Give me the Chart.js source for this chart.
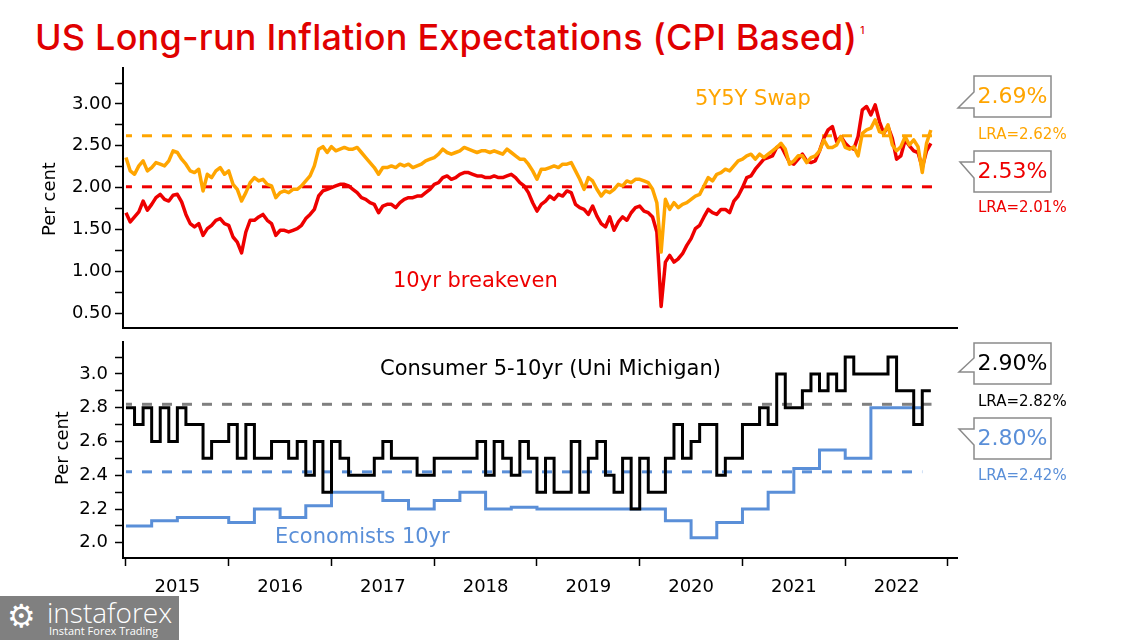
<!DOCTYPE html>
<html>
<head>
<meta charset="utf-8">
<script src="https://cdn.jsdelivr.net/npm/chart.js@4"></script>
<style>
  html, body { margin: 0; padding: 0; background: #fff; }
  #wrap { position: relative; width: 1125px; height: 640px; overflow: hidden; background: #fff; }
  #title { position: absolute; left: 35px; top: 12px; font-family: Inter, "Noto Sans", sans-serif; font-weight: 500;
           font-size: 36px; line-height: 36px; color: #e00000; white-space: nowrap; letter-spacing: 0.2px; }
  #title sup { font-size: 10px; vertical-align: 16px; margin-left: 3px; }
  canvas { position: absolute; left: 0; }
  #topChart { top: 54px; }
  #bottomChart { top: 324px; }
  #logo { position: absolute; left: 0; top: 596px; width: 179px; height: 44px; background: #808080; color: #fff; overflow: hidden; }
  #logo .gear { position: absolute; left: 7px; top: 1px; font: 32px "DejaVu Sans", sans-serif; }
  #logo .name { position: absolute; left: 47px; top: -3px; font: 300 28px "Open Sans", sans-serif; }
  #logo .tag { position: absolute; left: 49px; top: 27px; font: 11px "Open Sans", sans-serif; }
</style>
</head>
<body>
<div id="wrap">
  <div id="title">US Long-run Inflation Expectations (CPI Based)<sup>1</sup></div>
  <canvas id="topChart" width="1125" height="288"></canvas>
  <canvas id="bottomChart" width="1125" height="276"></canvas>
  <div id="logo"><span class="gear">&#9881;</span><span class="name">instaforex</span><span class="tag">Instant Forex Trading</span></div>
</div>
<script>
// 数据 (semi-monthly from Jan 2015)
const breakeven = [
  1.70, 1.59, 1.65, 1.71, 1.84, 1.73, 1.80, 1.88, 1.92, 1.86,
  1.84, 1.91, 1.92, 1.83, 1.68, 1.57, 1.53, 1.57, 1.43, 1.51,
  1.55, 1.61, 1.63, 1.57, 1.55, 1.41, 1.35, 1.22, 1.47, 1.61,
  1.61, 1.65, 1.68, 1.61, 1.57, 1.43, 1.49, 1.49, 1.47, 1.49,
  1.51, 1.55, 1.63, 1.68, 1.74, 1.90, 1.96, 1.98,
  2.00, 2.02, 2.04, 2.04, 2.02, 1.98, 1.94, 1.88, 1.86, 1.82,
  1.80, 1.70, 1.78, 1.80, 1.80, 1.76, 1.82, 1.86, 1.88, 1.88,
  1.90, 1.90, 1.94, 1.98, 2.04, 2.06, 2.12, 2.14, 2.10, 2.12,
  2.16, 2.18, 2.18, 2.16, 2.14, 2.14, 2.12, 2.12, 2.14, 2.12,
  2.12, 2.14, 2.16, 2.12, 2.06, 2.02, 1.94, 1.82, 1.72,
  1.80, 1.84, 1.90, 1.86, 1.92, 1.90, 1.96, 1.94, 1.80, 1.76,
  1.74, 1.68, 1.78, 1.66, 1.57, 1.53, 1.65, 1.49, 1.59, 1.65,
  1.61, 1.70, 1.76, 1.78, 1.72, 1.70, 1.65, 1.47, 0.58, 1.11,
  1.19, 1.11, 1.15, 1.21, 1.31, 1.39, 1.51, 1.55, 1.65, 1.74,
  1.70, 1.68, 1.74, 1.74, 1.70, 1.84, 1.90, 2.00, 2.12,
  2.14, 2.22, 2.28, 2.34, 2.36, 2.38, 2.48, 2.50, 2.40, 2.30,
  2.28, 2.34, 2.40, 2.32, 2.30, 2.32, 2.44, 2.59, 2.69, 2.73,
  2.55, 2.61, 2.53, 2.48, 2.46, 2.61, 2.93, 2.97, 2.87, 2.99,
  2.79, 2.65, 2.73, 2.59, 2.34, 2.38, 2.57, 2.50, 2.44, 2.42,
  2.24, 2.44, 2.53
];

const swap5y5y = [
  2.36, 2.20, 2.16, 2.26, 2.32, 2.20, 2.24, 2.30, 2.28, 2.26,
  2.32, 2.44, 2.42, 2.34, 2.28, 2.20, 2.18, 2.22, 1.96, 2.16,
  2.12, 2.20, 2.24, 2.16, 2.20, 2.04, 1.98, 1.84, 1.94, 2.06,
  2.12, 2.08, 2.10, 2.04, 2.02, 1.88, 1.94, 1.96, 1.94, 1.98,
  1.98, 2.02, 2.08, 2.14, 2.26, 2.46, 2.49, 2.42,
  2.49, 2.44, 2.46, 2.48, 2.46, 2.46, 2.48, 2.42, 2.36, 2.30,
  2.24, 2.16, 2.24, 2.24, 2.26, 2.24, 2.28, 2.26, 2.28, 2.24,
  2.26, 2.28, 2.32, 2.34, 2.36, 2.40, 2.46, 2.42, 2.40, 2.42,
  2.44, 2.48, 2.46, 2.44, 2.42, 2.44, 2.44, 2.42, 2.44, 2.42,
  2.40, 2.46, 2.42, 2.38, 2.34, 2.34, 2.28, 2.20, 2.10,
  2.22, 2.22, 2.24, 2.26, 2.24, 2.28, 2.28, 2.30, 2.20, 2.10,
  1.98, 2.12, 2.08, 1.98, 1.90, 1.96, 1.94, 1.98, 2.04, 2.02,
  2.08, 2.06, 2.10, 2.10, 2.08, 2.06, 1.98, 1.82, 1.23, 1.86,
  1.74, 1.82, 1.76, 1.80, 1.82, 1.86, 1.90, 1.92, 2.02, 2.12,
  2.08, 2.16, 2.18, 2.22, 2.20, 2.26, 2.32, 2.34, 2.38,
  2.40, 2.34, 2.40, 2.36, 2.40, 2.44, 2.48, 2.53, 2.46, 2.28,
  2.32, 2.38, 2.38, 2.30, 2.36, 2.38, 2.44, 2.57, 2.48, 2.48,
  2.51, 2.61, 2.48, 2.46, 2.49, 2.38, 2.65, 2.69, 2.71, 2.81,
  2.67, 2.65, 2.75, 2.51, 2.44, 2.49, 2.61, 2.51, 2.57, 2.49,
  2.18, 2.53, 2.69
];

// monthly, Jan 2015 - Oct 2022
const michigan = [
  2.8, 2.7, 2.8, 2.6, 2.8, 2.6, 2.8, 2.7, 2.7, 2.5, 2.6, 2.6,
  2.7, 2.5, 2.7, 2.5, 2.5, 2.6, 2.6, 2.5, 2.6, 2.4, 2.6, 2.3,
  2.6, 2.5, 2.4, 2.4, 2.4, 2.5, 2.6, 2.5, 2.5, 2.5, 2.4, 2.4,
  2.5, 2.5, 2.5, 2.5, 2.5, 2.6, 2.4, 2.6, 2.5, 2.4, 2.6, 2.5,
  2.3, 2.5, 2.3, 2.3, 2.6, 2.3, 2.5, 2.6, 2.4, 2.3, 2.5, 2.2,
  2.5, 2.3, 2.3, 2.5, 2.7, 2.5, 2.6, 2.7, 2.7, 2.4, 2.5, 2.5,
  2.7, 2.7, 2.8, 2.7, 3.0, 2.8, 2.8, 2.9, 3.0, 2.9, 3.0, 2.9,
  3.1, 3.0, 3.0, 3.0, 3.0, 3.1, 2.9, 2.9, 2.7, 2.9
];

// quarterly, Q1 2015 - Q3 2022
const economists = [
  2.10, 2.13, 2.15, 2.15,
  2.12, 2.20, 2.15, 2.22,
  2.30, 2.30, 2.25, 2.20,
  2.25, 2.30, 2.20, 2.21,
  2.20, 2.20, 2.20, 2.20,
  2.20, 2.13, 2.03, 2.12,
  2.20, 2.30, 2.44, 2.55,
  2.50, 2.80, 2.80
];

const LRA_SWAP = 2.62;
const LRA_BREAKEVEN = 2.01;
const LRA_MICHIGAN = 2.82;
const LRA_ECONOMISTS = 2.42;
const LATEST_SWAP = '2.69%';
const LATEST_BREAKEVEN = '2.53%';
const LATEST_MICHIGAN = '2.90%';
const LATEST_ECONOMISTS = '2.80%';

const yearLabels = ['2015', '2016', '2017', '2018', '2019', '2020', '2021', '2022'];
const topTicks = [0.50, 0.75, 1.00, 1.25, 1.50, 1.75, 2.00, 2.25, 2.50, 2.75, 3.00, 3.25];
const bottomTicks = [2.0, 2.1, 2.2, 2.3, 2.4, 2.5, 2.6, 2.7, 2.8, 2.9, 3.0, 3.1];

const START = 2015;
const X_MIN = 2014.971;
const X_MAX = 2023.088;

const RED = '#ee0000';
const ORANGE = '#ffa500';
const BLUE = '#5a8fd8';
const GREY = '#808080';
const FONT = '"DejaVu Sans", sans-serif';

// 生成数据点
function semiMonthly(values) {
  return values.map((v, i) => ({ x: START + i / 24, y: v }));
}
function steps(values, perYear) {
  const pts = values.map((v, i) => ({ x: START + i / perYear, y: v }));
  pts.push({ x: START + values.length / perYear, y: values[values.length - 1] });
  return pts;
}
function level(value, from, to) {
  return [{ x: from, y: value }, { x: to, y: value }];
}

const xTicks = [];
yearLabels.forEach((_, i) => { xTicks.push(START + i, START + i + 0.5); });
xTicks.push(START + yearLabels.length);

// 文字和标注
const overlay = {
  id: 'overlay',
  afterDraw(chart, args, opts) {
    const ctx = chart.ctx;
    ctx.save();
    ctx.translate(0, -opts.offsetTop);
    (opts.callouts || []).forEach(c => {
      ctx.beginPath();
      ctx.moveTo(c.x, c.y);
      ctx.lineTo(c.x + c.w, c.y);
      ctx.lineTo(c.x + c.w, c.y + c.h);
      ctx.lineTo(c.x, c.y + c.h);
      ctx.lineTo(c.x, c.tail[2]);
      ctx.lineTo(c.tail[0], c.tail[1]);
      ctx.lineTo(c.x, c.tail[3]);
      ctx.closePath();
      ctx.fillStyle = '#fff';
      ctx.fill();
      ctx.strokeStyle = '#8a8a8a';
      ctx.lineWidth = 1.5;
      ctx.stroke();
      ctx.fillStyle = c.color;
      ctx.font = '22px ' + FONT;
      ctx.textAlign = 'center';
      ctx.textBaseline = 'middle';
      ctx.fillText(c.text, c.x + c.w / 2, c.y + c.h / 2 + 1);
    });
    (opts.texts || []).forEach(t => {
      ctx.save();
      ctx.font = t.font;
      ctx.fillStyle = t.color;
      ctx.textAlign = t.align || 'left';
      ctx.textBaseline = t.baseline || 'alphabetic';
      ctx.translate(t.x, t.y);
      if (t.rotate) ctx.rotate(t.rotate);
      ctx.fillText(t.text, 0, 0);
      ctx.restore();
    });
    ctx.restore();
  }
};

function yAxis(min, max, ticks, decimals, padding) {
  return {
    type: 'linear',
    min: min,
    max: max,
    afterBuildTicks: s => { s.ticks = ticks.map(v => ({ value: v })); },
    afterFit: s => { s.width = 123; },
    ticks: {
      autoSkip: false,
      color: '#000',
      padding: padding,
      font: { family: FONT, size: 18 },
      callback: (v, i) => (i % 2 === 0 ? Number(v).toFixed(decimals) : '')
    },
    grid: { drawOnChartArea: false, drawTicks: true, tickLength: 8, tickColor: '#000', tickWidth: 1.5 },
    border: { display: true, color: '#000', width: 2 }
  };
}

function lineSet(data, color, extra) {
  return Object.assign({
    data: data,
    borderColor: color,
    borderWidth: 3,
    pointRadius: 0,
    fill: false,
    tension: 0
  }, extra || {});
}

// 上图
new Chart(document.getElementById('topChart'), {
  type: 'line',
  data: {
    datasets: [
      lineSet(semiMonthly(swap5y5y), ORANGE, { borderJoinStyle: 'round', borderWidth: 3.5 }),
      lineSet(semiMonthly(breakeven), RED, { borderJoinStyle: 'round', borderWidth: 3.5 }),
      lineSet(level(LRA_SWAP, 2015.0, 2022.85), ORANGE, { borderDash: [10, 10], borderDashOffset: 4 }),
      lineSet(level(LRA_BREAKEVEN, 2015.0, 2022.85), RED, { borderDash: [10, 10], borderDashOffset: 4 })
    ]
  },
  options: {
    responsive: false,
    animation: false,
    devicePixelRatio: 1,
    layout: { padding: { left: 0, right: 168, top: 14, bottom: 12 } },
    plugins: {
      legend: { display: false },
      tooltip: { enabled: false },
      overlay: {
        offsetTop: 54,
        texts: [
          { text: '5Y5Y Swap', x: 695, y: 105, color: ORANGE, font: '21px ' + FONT },
          { text: '10yr breakeven', x: 393, y: 287, color: RED, font: '21px ' + FONT },
          { text: 'LRA=' + LRA_SWAP.toFixed(2) + '%', x: 978, y: 135, color: ORANGE, font: '15px ' + FONT, baseline: 'middle' },
          { text: 'LRA=' + LRA_BREAKEVEN.toFixed(2) + '%', x: 978, y: 208, color: RED, font: '15px ' + FONT, baseline: 'middle' },
          { text: 'Per cent', x: 50, y: 199, color: '#000', font: '18px ' + FONT, align: 'center', baseline: 'middle', rotate: -Math.PI / 2 }
        ],
        callouts: [
          { text: LATEST_SWAP, color: ORANGE, x: 974, y: 76, w: 77, h: 41, tail: [958, 108, 108, 92] },
          { text: LATEST_BREAKEVEN, color: RED, x: 974, y: 151, w: 77, h: 41, tail: [960, 162, 178, 162] }
        ]
      }
    },
    scales: {
      x: {
        type: 'linear',
        min: X_MIN,
        max: X_MAX,
        afterFit: s => { s.height = 0; },
        ticks: { display: false },
        grid: { display: false, drawTicks: false },
        border: { display: true, color: '#000', width: 2 }
      },
      y: yAxis(0.32, 3.43, topTicks, 2, 3)
    }
  },
  plugins: [overlay]
});

// 下图
new Chart(document.getElementById('bottomChart'), {
  type: 'line',
  data: {
    datasets: [
      lineSet(steps(michigan, 12), '#000', { stepped: 'before' }),
      lineSet(steps(economists, 4), BLUE, { stepped: 'before' }),
      lineSet(level(LRA_MICHIGAN, 2015.0, 2022.84), GREY, { borderDash: [10, 10], borderDashOffset: 4 }),
      lineSet(level(LRA_ECONOMISTS, 2015.0, 2022.75), BLUE, { borderDash: [10, 10], borderDashOffset: 4 })
    ]
  },
  options: {
    responsive: false,
    animation: false,
    devicePixelRatio: 1,
    layout: { padding: { left: 0, right: 168, top: 14, bottom: 0 } },
    plugins: {
      legend: { display: false },
      tooltip: { enabled: false },
      overlay: {
        offsetTop: 324,
        texts: [
          { text: 'Consumer 5-10yr (Uni Michigan)', x: 380, y: 375, color: '#000', font: '21px ' + FONT },
          { text: 'Economists 10yr', x: 275, y: 543, color: BLUE, font: '21px ' + FONT },
          { text: 'LRA=' + LRA_MICHIGAN.toFixed(2) + '%', x: 978, y: 402, color: '#000', font: '15px ' + FONT, baseline: 'middle' },
          { text: 'LRA=' + LRA_ECONOMISTS.toFixed(2) + '%', x: 978, y: 476, color: BLUE, font: '15px ' + FONT, baseline: 'middle' },
          { text: 'Per cent', x: 63, y: 448, color: '#000', font: '18px ' + FONT, align: 'center', baseline: 'middle', rotate: -Math.PI / 2 }
        ],
        callouts: [
          { text: LATEST_MICHIGAN, color: '#000', x: 974, y: 343, w: 77, h: 41, tail: [959, 372, 372, 358] },
          { text: LATEST_ECONOMISTS, color: BLUE, x: 974, y: 418, w: 77, h: 41, tail: [959, 429, 445, 429] }
        ]
      }
    },
    scales: {
      x: {
        type: 'linear',
        min: X_MIN,
        max: X_MAX,
        afterBuildTicks: s => { s.ticks = xTicks.map(v => ({ value: v })); },
        afterFit: s => { s.height = 42; },
        ticks: {
          autoSkip: false,
          maxRotation: 0,
          color: '#000',
          padding: 11,
          font: { family: FONT, size: 18 },
          callback: v => (Number.isInteger(v) ? '' : yearLabels[Math.floor(v) - START])
        },
        grid: {
          drawOnChartArea: false,
          tickLength: 8,
          tickWidth: 1.5,
          tickColor: c => (c.tick && Number.isInteger(c.tick.value) ? '#000' : 'rgba(0,0,0,0)')
        },
        border: { display: true, color: '#000', width: 2 }
      },
      y: yAxis(1.91, 3.19, bottomTicks, 1, 7)
    }
  },
  plugins: [overlay]
});
</script>
</body>
</html>
